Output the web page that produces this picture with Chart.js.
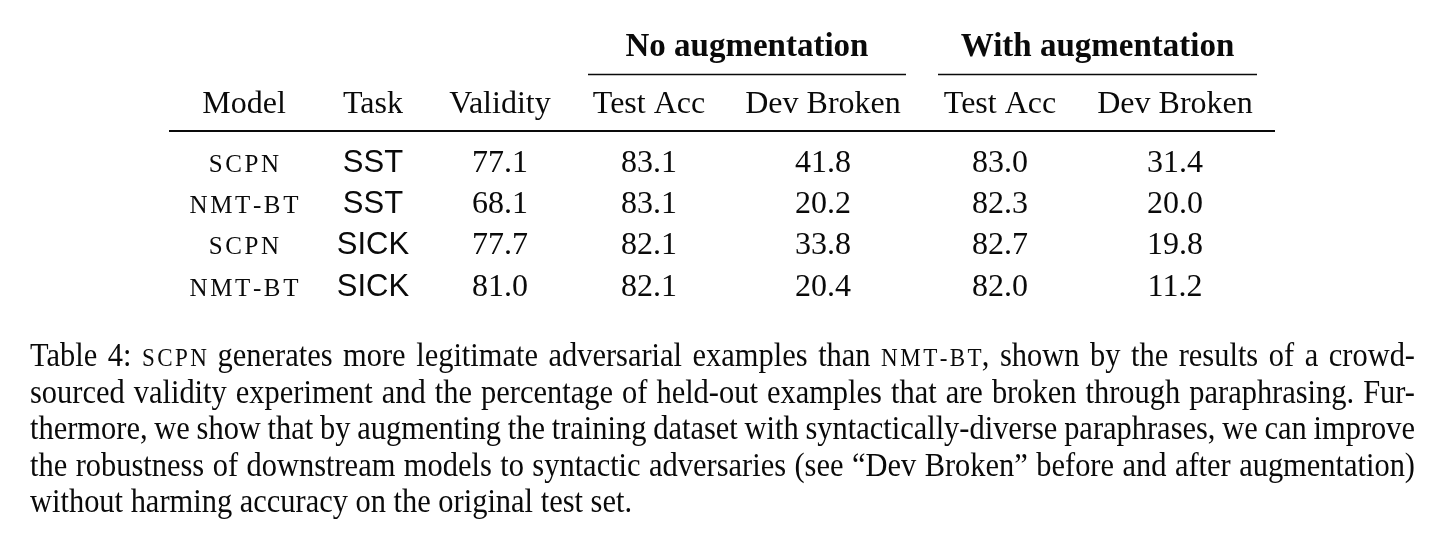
<!DOCTYPE html>
<html><head><meta charset="utf-8">
<script src="https://cdn.jsdelivr.net/npm/chart.js@4.4.0/dist/chart.umd.min.js"></script>
<style>html,body{margin:0;padding:0;background:#fff;}#wrap{width:1452px;height:537px;}</style>
</head><body><div id="wrap"><canvas id="c" width="1452" height="537"></canvas></div>
<script>
// ---- data ----
const groupHeaders = ['No augmentation', 'With augmentation'];
const columnHeaders = ['Model', 'Task', 'Validity', 'Test Acc', 'Dev Broken', 'Test Acc', 'Dev Broken'];
const models = ['scpn', 'nmt-bt', 'scpn', 'nmt-bt'];
const tasks = ['SST', 'SST', 'SICK', 'SICK'];
const validity = [77.1, 68.1, 77.7, 81.0];
const noAugTestAcc = [83.1, 83.1, 82.1, 82.1];
const noAugDevBroken = [41.8, 20.2, 33.8, 20.4];
const augTestAcc = [83.0, 82.3, 82.7, 82.0];
const augDevBroken = [31.4, 20.0, 19.8, 11.2];
const captionLines = [
  'Table 4: [SCPN] generates more legitimate adversarial examples than [NMT-BT], shown by the results of a crowd-',
  'sourced validity experiment and the percentage of held-out examples that are broken through paraphrasing. Fur-',
  'thermore, we show that by augmenting the training dataset with syntactically-diverse paraphrases, we can improve',
  'the robustness of downstream models to syntactic adversaries (see \u201cDev Broken\u201d before and after augmentation)',
  'without harming accuracy on the original test set.'
];

// ---- layout (positions in the x/y scale units) ----
const COL_X = [244, 373, 500, 649, 823, 1000, 1175];
const GROUP_SPAN = [[588, 906], [938, 1257]];
const GROUP_Y = 56, UNDERLINE_Y = 74.5, HEADER_Y = 112.5, RULE_Y = 131, RULE_X = [169, 1275];
const ROW_Y0 = 172, ROW_STEP = 41.2;
const CAP_X = [30, 1415], CAP_Y0 = 366, CAP_STEP = 36.6, CAP_LAST_END = 632;
const SERIF = '"Liberation Serif", "Times New Roman", serif';
const SANS = '"Liberation Sans", Arial, sans-serif';
const INK = '#0a0a0a';

function scWidth(ctx, text, size, sp) {
  ctx.font = size + 'px ' + SERIF;
  let w = 0; const t = text.toUpperCase();
  for (let i = 0; i < t.length; i++) w += ctx.measureText(t[i]).width;
  return w + sp * (t.length - 1);
}
function drawSC(ctx, text, x, y, size, sp) {
  ctx.font = size + 'px ' + SERIF;
  ctx.textAlign = 'left';
  const t = text.toUpperCase();
  let cx = x;
  for (let i = 0; i < t.length; i++) {
    ctx.fillText(t[i], cx, y);
    cx += ctx.measureText(t[i]).width + sp;
  }
}
function parseWord(w) {
  const segs = []; const re = /\[([^\]]+)\]/g; let last = 0, m;
  while ((m = re.exec(w))) {
    if (m.index > last) segs.push({ t: w.slice(last, m.index), sc: false });
    segs.push({ t: m[1], sc: true }); last = re.lastIndex;
  }
  if (last < w.length) segs.push({ t: w.slice(last), sc: false });
  return segs;
}

const tablePlugin = {
  id: 'tablePlugin',
  afterDraw(chart) {
    const ctx = chart.ctx, xs = chart.scales.x, ys = chart.scales.y;
    const X = v => xs.getPixelForValue(v), Y = v => ys.getPixelForValue(v);
    ctx.save();
    ctx.fillStyle = INK; ctx.strokeStyle = INK;
    ctx.textBaseline = 'alphabetic';
    // group headers
    ctx.font = 'bold 33px ' + SERIF; ctx.textAlign = 'center';
    groupHeaders.forEach((g, i) => {
      const [a, b] = GROUP_SPAN[i];
      ctx.fillText(g, X((a + b) / 2), Y(GROUP_Y));
      ctx.lineWidth = 1.6;
      ctx.beginPath(); ctx.moveTo(X(a), Y(UNDERLINE_Y)); ctx.lineTo(X(b), Y(UNDERLINE_Y)); ctx.stroke();
    });
    // column headers
    ctx.font = '32px ' + SERIF; ctx.textAlign = 'center';
    columnHeaders.forEach((h, i) => ctx.fillText(h, X(COL_X[i]), Y(HEADER_Y)));
    // rule
    ctx.lineWidth = 2.2;
    ctx.beginPath(); ctx.moveTo(X(RULE_X[0]), Y(RULE_Y)); ctx.lineTo(X(RULE_X[1]), Y(RULE_Y)); ctx.stroke();
    // rows
    const numCols = [validity, noAugTestAcc, noAugDevBroken, augTestAcc, augDevBroken];
    models.forEach((m, r) => {
      const y = Y(ROW_Y0 + r * ROW_STEP);
      const w = scWidth(ctx, m, 25, 2.6);
      drawSC(ctx, m, X(COL_X[0]) - w / 2, y, 25, 2.6);
      ctx.font = '31px ' + SANS; ctx.textAlign = 'center';
      ctx.fillText(tasks[r], X(COL_X[1]), y);
      ctx.font = '32px ' + SERIF;
      numCols.forEach((col, c) => ctx.fillText(col[r].toFixed(1), X(COL_X[c + 2]), y));
    });
    // caption
    const fs = 33, scs = Math.round(fs * 0.77), scsp = fs * 0.08;
    const wordW = segs => segs.reduce((s, g) => {
      if (g.sc) return s + scWidth(ctx, g.t, scs, scsp);
      ctx.font = fs + 'px ' + SERIF; return s + ctx.measureText(g.t).width;
    }, 0);
    ctx.font = fs + 'px ' + SERIF;
    const spaceW = ctx.measureText(' ').width;
    const lastWords = captionLines[captionLines.length - 1].split(' ').map(parseWord);
    const lastNat = lastWords.reduce((s, w) => s + wordW(w), 0) + spaceW * (lastWords.length - 1);
    const sx = (X(CAP_LAST_END) - X(CAP_X[0])) / lastNat;
    const fullW = (X(CAP_X[1]) - X(CAP_X[0])) / sx;
    captionLines.forEach((line, li) => {
      const words = line.split(' ').map(parseWord);
      const widths = words.map(wordW);
      const tot = widths.reduce((a, b) => a + b, 0);
      const isLast = li === captionLines.length - 1;
      const gap = isLast ? spaceW : (fullW - tot) / (words.length - 1);
      ctx.save();
      ctx.translate(X(CAP_X[0]), Y(CAP_Y0 + li * CAP_STEP));
      ctx.scale(sx, 1);
      let cx = 0;
      words.forEach((segs, wi) => {
        let px = cx;
        segs.forEach(g => {
          if (g.sc) { drawSC(ctx, g.t, px, 0, scs, scsp); px += scWidth(ctx, g.t, scs, scsp); }
          else { ctx.font = fs + 'px ' + SERIF; ctx.textAlign = 'left'; ctx.fillText(g.t, px, 0); px += ctx.measureText(g.t).width; }
        });
        cx += widths[wi] + gap;
      });
      ctx.restore();
    });
    ctx.restore();
  }
};

new Chart(document.getElementById('c'), {
  type: 'scatter',
  data: { datasets: [] },
  options: {
    responsive: false, animation: false, events: [], devicePixelRatio: 1,
    layout: { padding: 0 },
    plugins: { legend: { display: false }, tooltip: { enabled: false } },
    scales: {
      x: { type: 'linear', min: 0, max: 1452, display: false },
      y: { type: 'linear', min: 0, max: 537, reverse: true, display: false }
    }
  },
  plugins: [tablePlugin]
});
</script></body></html>
